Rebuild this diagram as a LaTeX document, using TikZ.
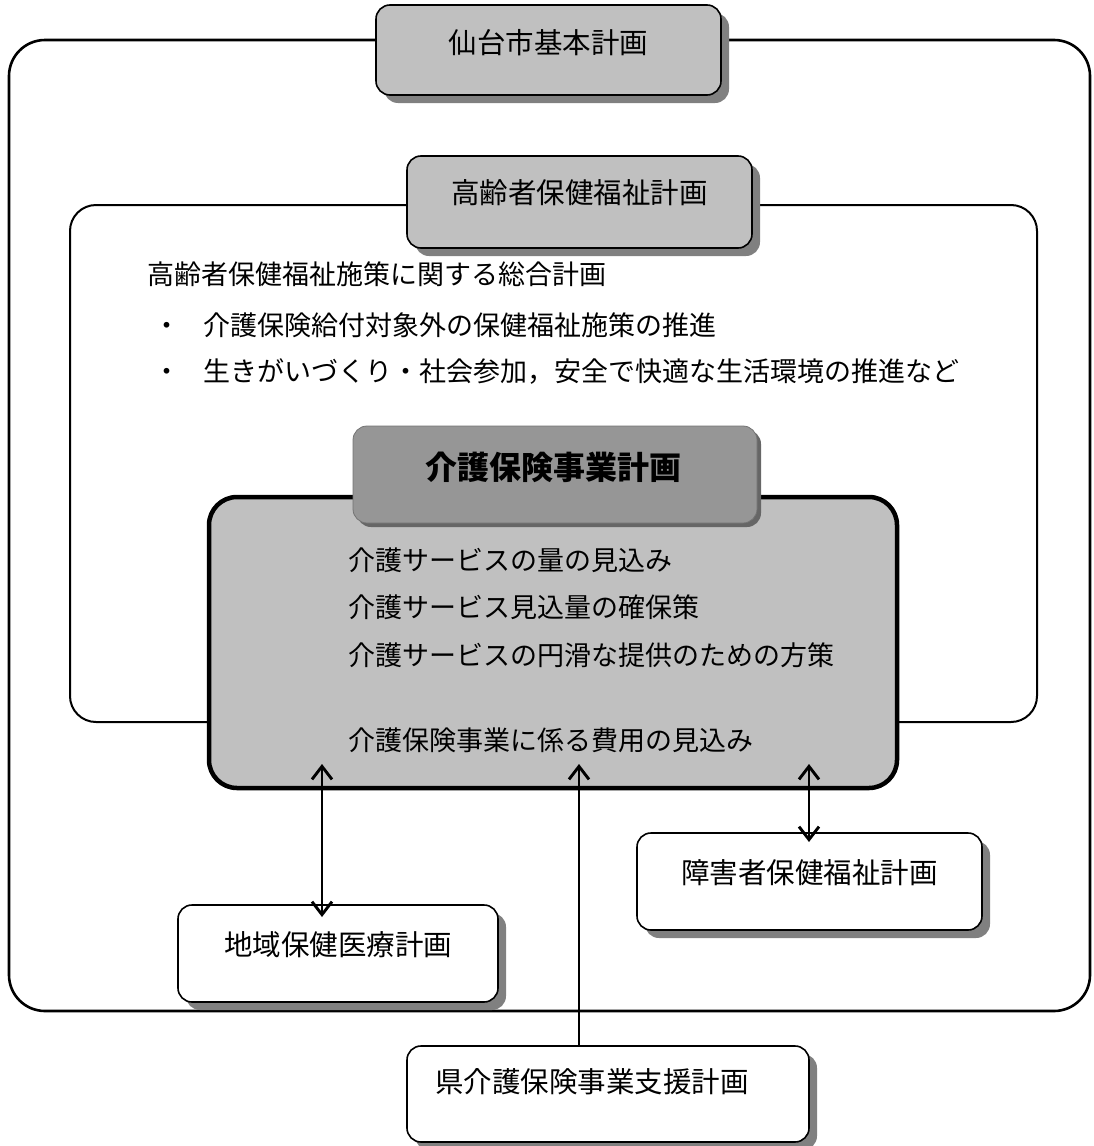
\documentclass[tikz,border=0pt]{standalone}
\usepackage{fontspec}
\setmainfont{Noto Sans CJK JP}
\usetikzlibrary{arrows.meta,calc}
\definecolor{boxgray}{HTML}{C0C0C0}
\definecolor{headgray}{HTML}{969696}
\definecolor{shd}{HTML}{808080}
\tikzset{
  frame/.style={draw=black, rounded corners=#1},
  shadowed/.style={preaction={draw=none, fill=shd, transform canvas={xshift=8pt, yshift=-8pt}}},
  lbox/.style={draw=black, line width=1.6pt, rounded corners=14pt, inner sep=0pt, shadowed},
  lbl/.style={inner sep=0pt, font=\fontsize{28.5}{32}\selectfont},
  body/.style={inner sep=0pt, anchor=west, font=\fontsize{27}{31}\selectfont},
  dar/.style={line width=2.9pt, {Straight Barb[length=13pt,width=20pt,line width=2.9pt]}-{Straight Barb[length=13pt,width=20pt,line width=2.9pt]}},
  sar/.style={line width=2.9pt, -{Straight Barb[length=13pt,width=20pt,line width=2.9pt]}},
}
\begin{document}
\begin{tikzpicture}[x=1pt, y=-1pt]
\useasboundingbox (0,0) rectangle (1093,1146);
% outer frame
\draw[frame=36pt, line width=2.6pt] (9,40) rectangle (1090,1011);
% inner frame
\draw[frame=26pt, line width=2pt] (70,205) rectangle (1037,722);
% title boxes
\node[lbox, fill=boxgray, minimum width=345pt, minimum height=90pt] (sendai) at (548.5,50) {};
\node[lbl] (sendaiT) at ($(sendai.north)+(0,38)$) {仙台市基本計画};
\node[lbox, fill=boxgray, minimum width=345pt, minimum height=92pt] (koureisha) at (579.5,202) {};
\node[lbl] (koureishaT) at ($(koureisha.north)+(0,37)$) {高齢者保健福祉計画};
% text lines in inner frame
\node[body] (l1) at (147,274) {高齢者保健福祉施策に関する総合計画};
\node[body] (l2) at (153,325) {・\hspace{23pt}介護保険給付対象外の保健福祉施策の推進};
\node[body] (l3) at (153,372) {・\hspace{23pt}生きがいづくり・社会参加，安全で快適な生活環境の推進など};
% main box
\node[draw=black, line width=4.5pt, fill=boxgray, rounded corners=28pt, inner sep=0pt, minimum width=688pt, minimum height=291pt] (kaigo) at (553,642.5) {};
\node[draw=black!55, line width=0.8pt, fill=headgray, rounded corners=14pt, inner sep=0pt, minimum width=404pt, minimum height=97pt,
  preaction={draw=none, fill=black!60, transform canvas={xshift=4pt, yshift=-4pt}}] (head) at (555,474.5) {};
\node[inner sep=0pt, font=\fontsize{32}{36}\selectfont\bfseries] (headT) at (553,467) {介護保険事業計画};
\node[body] (m1) at (348,560) {介護サービスの量の見込み};
\node[body] (m2) at (348,607) {介護サービス見込量の確保策};
\node[body] (m3) at (348,655) {介護サービスの円滑な提供のための方策};
\node[body] (m4) at (348,740) {介護保険事業に係る費用の見込み};
% lower boxes
\node[lbox, fill=white, minimum width=320pt, minimum height=97pt] (chiiki) at (338,953.5) {};
\node[lbl] (chiikiT) at ($(chiiki.north)+(0,40)$) {地域保健医療計画};
\node[lbox, fill=white, minimum width=345pt, minimum height=97pt] (shogai) at (809.5,881.5) {};
\node[lbl] (shogaiT) at ($(shogai.north)+(0,40)$) {障害者保健福祉計画};
\node[lbox, fill=white, minimum width=402pt, minimum height=96pt] (ken) at (608,1094) {};
\node[lbl] (kenT) at (592,1082) {県介護保険事業支援計画};
% connectors
\coordinate (aL1) at (322,764);
\coordinate (aL2) at (322,917);
\coordinate (aR1) at (809,764);
\coordinate (aR2) at (809,842);
\coordinate (aC1) at (579,764);
\coordinate (aC2) at (ken.north -| aC1);
\draw[dar] (aL1) -- (aL2);
\draw[dar] (aR1) -- (aR2);
\draw[sar] (aC2) -- (aC1);
\end{tikzpicture}
\end{document}
